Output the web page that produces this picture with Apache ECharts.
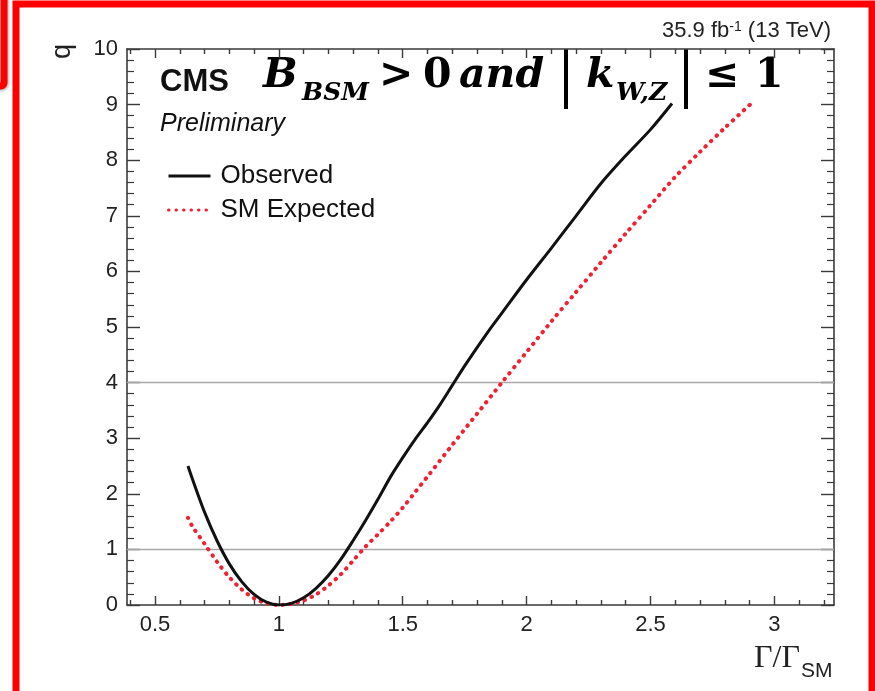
<!DOCTYPE html>
<html><head><meta charset="utf-8">
<script src="https://cdn.jsdelivr.net/npm/echarts@6/dist/echarts.min.js"></script>
<style>html,body{margin:0;padding:0;background:#fff}#c{width:875px;height:691px}</style>
</head><body><div id="c"></div>
<script>
// ---- data ----
const xObserved = [0.633,0.65,0.70,0.75,0.80,0.85,0.90,0.95,1.00,1.05,1.10,1.15,1.20,1.25,1.30,1.35,1.40,1.45,1.50,1.55,1.60,1.65,1.70,1.75,1.80,1.85,1.90,2.00,2.10,2.20,2.30,2.40,2.50,2.587];
const qObserved = [2.50,2.28,1.67,1.16,0.74,0.42,0.19,0.05,0.00,0.03,0.13,0.30,0.53,0.82,1.16,1.52,1.90,2.30,2.65,2.98,3.28,3.60,3.95,4.30,4.63,4.95,5.25,5.85,6.42,7.00,7.58,8.08,8.55,9.02];
const xExpected = [0.633,0.65,0.70,0.75,0.80,0.85,0.90,0.95,1.00,1.05,1.10,1.15,1.20,1.25,1.30,1.35,1.40,1.45,1.50,1.55,1.60,1.70,1.80,1.90,2.00,2.10,2.20,2.30,2.40,2.50,2.60,2.70,2.80,2.902];
const qExpected = [1.57,1.42,1.10,0.78,0.50,0.28,0.12,0.03,0.00,0.02,0.08,0.19,0.35,0.55,0.80,1.05,1.27,1.50,1.75,2.03,2.31,2.88,3.44,4.00,4.55,5.10,5.63,6.16,6.68,7.19,7.70,8.15,8.58,9.00];
const seriesNames = ['Observed', 'SM Expected'];
const refLevels = [1, 4];
const xMajorTicks = [0.5, 1, 1.5, 2, 2.5, 3];
const xMinorTicks = [0.4,0.6,0.7,0.8,0.9,1.1,1.2,1.3,1.4,1.6,1.7,1.8,1.9,2.1,2.2,2.3,2.4,2.6,2.7,2.8,2.9,3.1,3.2];
const xRange = [0.387, 3.241];
const yRange = [0, 10];

const SANS = '"Liberation Sans", Arial, Helvetica, sans-serif';
const SERIF = '"DejaVu Serif", "Liberation Serif", serif';
const AX = '#3a3a3a';
const RED = '#ee2233';

function pairs(xs, ys) { return xs.map((x, i) => [x, ys[i]]); }

function xAx(pos, ticks, len, main) {
  return {
    type: 'value', position: pos, min: xRange[0], max: xRange[1],
    axisLine: { show: main, onZero: false, lineStyle: { color: AX, width: 1.6 } },
    axisTick: { show: true, inside: true, length: len, customValues: ticks, lineStyle: { color: AX, width: 1.4 } },
    axisLabel: (main && pos === 'bottom') ? { show: true, customValues: xMajorTicks, margin: 9, fontFamily: SANS, fontSize: 22, color: '#222' } : { show: false },
    splitLine: { show: false }
  };
}
function yAx(pos, labels) {
  return {
    type: 'value', position: pos, min: yRange[0], max: yRange[1], interval: 1,
    axisLine: { show: true, onZero: false, lineStyle: { color: AX, width: 1.6 } },
    axisTick: { show: true, inside: true, length: 13, lineStyle: { color: AX, width: 1.4 } },
    minorTick: { show: true, splitNumber: 5, length: 7, lineStyle: { color: AX, width: 1.2 } },
    axisLabel: labels ? { show: true, margin: 9, fontFamily: SANS, fontSize: 22, color: '#222' } : { show: false },
    splitLine: { show: false }
  };
}

const F = 'bold 41px ' + SERIF, FI = 'bold italic 41px ' + SERIF, FS = 'bold italic 25px ' + SERIF;
function piece(x, y, text, font) {
  return { type: 'text', x: x, y: y, style: { text: text, font: font, fill: '#000', verticalAlign: 'middle' } };
}

const chart = echarts.init(document.getElementById('c'), null, { renderer: 'canvas' });
chart.setOption({
  animation: false,
  backgroundColor: '#fff',
  grid: { left: 127, right: 41, top: 49, bottom: 86, containLabel: false },
  xAxis: [
    xAx('bottom', xMajorTicks, 9, true),
    xAx('bottom', xMinorTicks, 5, false),
    xAx('top', xMajorTicks, 9, true),
    xAx('top', xMinorTicks, 5, false)
  ],
  yAxis: [yAx('left', true), yAx('right', false)],
  legend: {
    data: seriesNames, orient: 'vertical', left: 167, top: 163, padding: 0,
    itemWidth: 42, itemHeight: 16, itemGap: 8,
    itemStyle: { opacity: 0 },
    lineStyle: { width: 3 },
    textStyle: { fontFamily: SANS, fontSize: 26, color: '#111', padding: [0, 0, 0, 5] }
  },
  graphic: [
    // red highlight frames (annotation of the slide)
    { type: 'rect', shape: { x: 16, y: 4, width: 856, height: 700 }, style: { fill: null, stroke: '#ff0000', lineWidth: 7 }, z: 100 },
    { type: 'rect', shape: { x: -20, y: -20, width: 24, height: 106, r: 3 }, style: { fill: null, stroke: '#ff0000', lineWidth: 7, shadowColor: 'rgba(0,0,0,0.35)', shadowBlur: 3, shadowOffsetX: 1, shadowOffsetY: 1 }, z: 100 },
    // CMS labels
    { type: 'text', x: 160, y: 82, style: { text: 'CMS', font: 'bold 31px ' + SANS, fill: '#111', verticalAlign: 'middle' } },
    { type: 'text', x: 160, y: 124, style: { text: 'Preliminary', font: 'italic 25px ' + SANS, fill: '#111', verticalAlign: 'middle' } },
    { type: 'text', x: 831, y: 31, style: { text: '{a|35.9 fb}{s|-1}{a| (13 TeV)}', align: 'right', verticalAlign: 'middle', rich: { a: { font: '22px ' + SANS, fill: '#222', verticalAlign: 'bottom' }, s: { font: '14px ' + SANS, fill: '#222', verticalAlign: 'top' } } } },
    // y title
    { type: 'text', x: 63, y: 44, rotation: Math.PI / 2, style: { text: 'q', font: '27px ' + SANS, fill: '#222', align: 'right', verticalAlign: 'middle' } },
    // x title
    { type: 'text', x: 800, y: 659, style: { text: 'Γ/Γ', font: '32px "Liberation Serif", serif', fill: '#222', align: 'right', verticalAlign: 'middle' } },
    { type: 'text', x: 801, y: 671, style: { text: 'SM', font: '21px ' + SANS, fill: '#222', align: 'left', verticalAlign: 'middle' } },
    // big formula overlay
    piece(263, 76, 'B', FI),
    piece(302, 93, 'BSM', FS),
    piece(379, 76, '>', F),
    piece(423, 76, '0', F),
    piece(459, 76, 'and', FI),
    { type: 'line', shape: { x1: 566, y1: 49, x2: 566, y2: 109 }, style: { stroke: '#000', lineWidth: 4 } },
    piece(586, 76, 'k', FI),
    piece(616, 93, 'W,Z', FS),
    { type: 'line', shape: { x1: 686, y1: 49, x2: 686, y2: 109 }, style: { stroke: '#000', lineWidth: 4 } },
    piece(705, 76, '≤', F),
    piece(755, 76, '1', F)
  ],
  series: [
    {
      name: seriesNames[0], type: 'line', xAxisIndex: 0, yAxisIndex: 0,
      data: pairs(xObserved, qObserved), showSymbol: false, symbol: 'none', smooth: 0.3,
      lineStyle: { color: '#111', width: 3 }, itemStyle: { color: '#111' }, z: 3,
      markLine: {
        silent: true, symbol: ['none', 'none'], label: { show: false }, z: 1,
        lineStyle: { color: '#a8a8a8', width: 1.3, type: 'solid' },
        data: refLevels.map(v => ({ yAxis: v }))
      }
    },
    {
      name: seriesNames[1], type: 'line', xAxisIndex: 0, yAxisIndex: 0,
      data: pairs(xExpected, qExpected), showSymbol: false, symbol: 'none', smooth: 0.3,
      lineStyle: { color: RED, width: 4, type: [0.5, 7], cap: 'round' }, itemStyle: { color: RED }, z: 2
    }
  ]
});
</script>
</body></html>
